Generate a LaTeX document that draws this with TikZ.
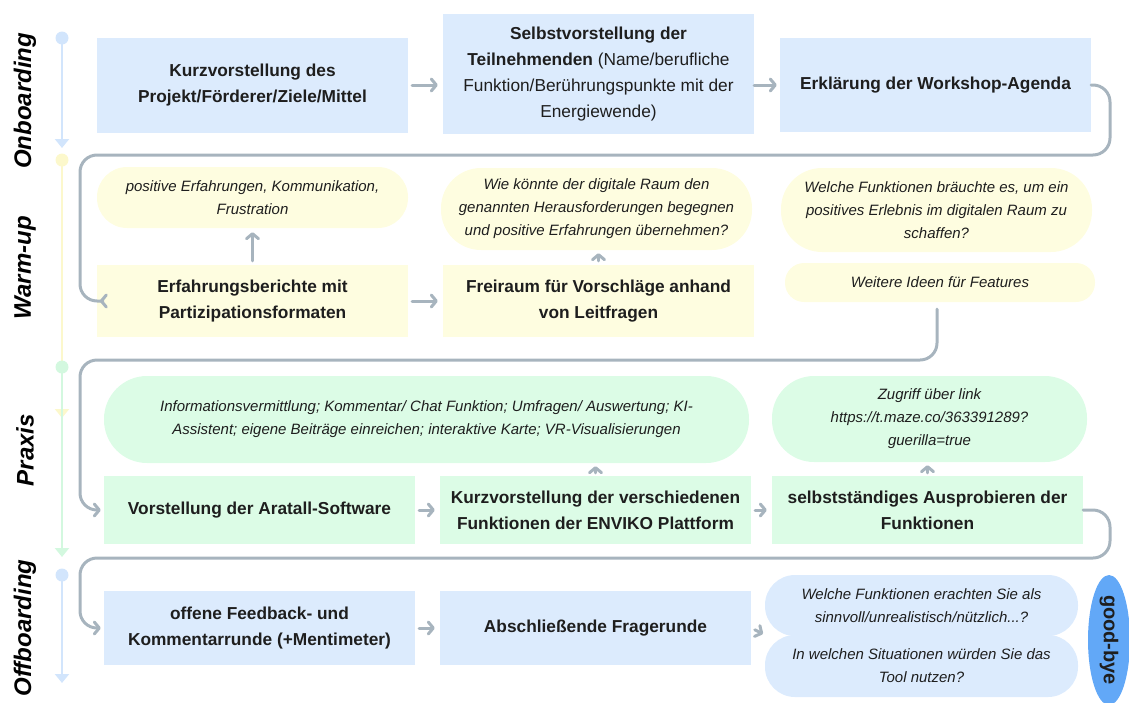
\documentclass[tikz,border=0pt]{standalone}
\usepackage{fontspec}
\setmainfont{Liberation Sans}
\usetikzlibrary{arrows.meta,shapes.geometric}

\definecolor{ink}{HTML}{1E1E1E}
\definecolor{bluefill}{HTML}{DCEBFD}
\definecolor{yellowfill}{HTML}{FEFDE0}
\definecolor{greenfill}{HTML}{DCFCE6}
\definecolor{linkgray}{HTML}{A7B4BE}
\definecolor{byeblue}{HTML}{62A8F7}
\definecolor{tlblue}{HTML}{D2E5FC}
\definecolor{tlyellow}{HTML}{FCF8CC}
\definecolor{tlgreen}{HTML}{D3F8DF}

\newcommand\cardfont{\fontsize{17.3}{26}\selectfont\bfseries}
\newcommand\bubblefont{\fontsize{15}{23}\selectfont\itshape}

\tikzset{
  card/.style={inner sep=0pt, align=center, text=ink, font=\cardfont},
  bubble/.style={inner sep=0pt, align=center, text=ink, font=\bubblefont, rounded corners=#1},
  flow/.style={draw=linkgray, line width=3, line cap=round, line join=round,
    -{Straight Barb[length=5, width=12, round]}},
  loop/.style={flow, rounded corners=17},
  dot/.style={circle, inner sep=0pt, minimum size=13},
  tline/.style={line width=2.5, -{Triangle[length=9, width=14]}},
  phase/.style={rotate=90, text=black, font=\fontsize{24}{28}\selectfont\bfseries\itshape},
}

\begin{document}
\begin{tikzpicture}[x=1pt,y=-1pt]
\useasboundingbox (0,0) rectangle (1129,702);

% timeline on the left
\node[dot, fill=tlblue] (t1) at (62,38) {};
\coordinate (t1e) at (62,148);
\draw[tline, draw=tlblue] (t1.center) -- (t1e);
\node[dot, fill=tlyellow] (t2) at (62,160) {};
\coordinate (t2e) at (62,418);
\draw[tline, draw=tlyellow] (t2.center) -- (t2e);
\node[dot, fill=tlgreen] (t3) at (62,367) {};
\coordinate (t3e) at (62,557);
\draw[tline, draw=tlgreen] (t3.center) -- (t3e);
\node[dot, fill=tlblue] (t4) at (62,575) {};
\coordinate (t4e) at (62,683);
\draw[tline, draw=tlblue] (t4.center) -- (t4e);

\node[phase] (pOn) at (25,101) {Onboarding};
\node[phase] (pWarm) at (25,268) {Warm-up};
\node[phase] (pPrax) at (25,450) {Praxis};
\node[phase] (pOff) at (25,628) {Offboarding};

% Onboarding
\node[card, fill=bluefill, minimum width=311, minimum height=95] (A1) at (252.5,85.5)
  {Kurzvorstellung des\\Projekt/Förderer/Ziele/Mittel};
\node[card, fill=bluefill, minimum width=311, minimum height=120, font=\cardfont\mdseries] (A2) at (598.5,74)
  {\textbf{Selbstvorstellung der}\\\textbf{Teilnehmenden} (Name/berufliche\\Funktion/Berührungspunkte mit der\\Energiewende)};
\node[card, fill=bluefill, minimum width=311, minimum height=94] (A3) at (935.5,85)
  {Erklärung der Workshop-Agenda};

% Warm-up
\node[bubble=30, fill=yellowfill, minimum width=311, minimum height=61] (B1n) at (252.5,197.5)
  {positive Erfahrungen, Kommunikation,\\Frustration};
\node[bubble=40, fill=yellowfill, minimum width=311, minimum height=82] (B2n) at (596.5,209)
  {Wie könnte der digitale Raum den\\genannten Herausforderungen begegnen\\und positive Erfahrungen übernehmen?};
\node[bubble=41, fill=yellowfill, minimum width=311, minimum height=84] (B3n) at (936.5,210)
  {Welche Funktionen bräuchte es, um ein\\positives Erlebnis im digitalen Raum zu\\schaffen?};
\node[bubble=19, fill=yellowfill, minimum width=310, minimum height=39] (B3m) at (940,282.5)
  {Weitere Ideen für Features};
\node[card, fill=yellowfill, minimum width=311, minimum height=72] (B1) at (252.5,301)
  {Erfahrungsberichte mit\\Partizipationsformaten};
\node[card, fill=yellowfill, minimum width=311, minimum height=72] (B2) at (598.5,301)
  {Freiraum für Vorschläge anhand\\von Leitfragen};

% Praxis
\node[bubble=43, fill=greenfill, minimum width=645, minimum height=87] (C1n) at (426.5,419.5)
  {Informationsvermittlung; Kommentar/ Chat Funktion; Umfragen/ Auswertung; KI-\\Assistent; eigene Beiträge einreichen; interaktive Karte; VR-Visualisierungen};
\node[bubble=42, fill=greenfill, minimum width=315, minimum height=86] (C3n) at (929.5,419)
  {Zugriff über link\\https://t.maze.co/363391289?\\guerilla=true};
\node[card, fill=greenfill, minimum width=311, minimum height=68] (C1) at (259.5,510)
  {Vorstellung der Aratall-Software};
\node[card, fill=greenfill, minimum width=311, minimum height=68] (C2) at (595.5,510)
  {Kurzvorstellung der verschiedenen\\Funktionen der ENVIKO Plattform};
\node[card, fill=greenfill, minimum width=311, minimum height=68] (C3) at (927.5,510)
  {selbstständiges Ausprobieren der\\Funktionen};

% Offboarding
\node[card, fill=bluefill, minimum width=311, minimum height=74] (D1) at (259.5,628)
  {offene Feedback- und\\Kommentarrunde (+Mentimeter)};
\node[card, fill=bluefill, minimum width=311, minimum height=74] (D2) at (595.5,628)
  {Abschließende Fragerunde};
\node[bubble=30, fill=bluefill, minimum width=313, minimum height=61] (D3a) at (921.5,605.5)
  {Welche Funktionen erachten Sie als\\sinnvoll/unrealistisch/nützlich...?};
\node[bubble=30, fill=bluefill, minimum width=313, minimum height=62] (D3b) at (921.5,666)
  {In welchen Situationen würden Sie das\\Tool nutzen?};
\node[ellipse, fill=byeblue, inner sep=0pt, minimum width=130, minimum height=42, rotate=-90,
  text=ink, font=\fontsize{20}{24}\selectfont\bfseries] (bye) at (1109,640) {good-bye};

% arrows within the rows
\draw[flow, shorten <=4, shorten >=5] (A1.east |- 0,85) -- (A2.west |- 0,85);
\draw[flow, shorten >=3] (A2.east |- A3.west) -- (A3.west);
\draw[flow, shorten <=4, shorten >=5] (B1.east) -- (B2.west);
\draw[flow, shorten <=4, shorten >=4] (B1.north) -- (B1n.south);
\draw[flow, shorten <=4, shorten >=3] (B2.north) -- (B2.north |- B2n.south);
\draw[flow, shorten <=4, shorten >=5] (C1.east) -- (C2.west);
\draw[flow, shorten <=4, shorten >=5] (C2.east) -- (C3.west);
\draw[flow, shorten <=3, shorten >=3] (C2.north) -- (C2.north |- C1n.south);
\draw[flow, shorten <=3, shorten >=3] (C3.north) -- (C3.north |- C3n.south);
\draw[flow, shorten <=4, shorten >=5] (D1.east) -- (D2.west);
\draw[flow, shorten <=4, shorten >=2] (D2.east) -- (D3b.north west);

% loops leading from one phase to the next
\coordinate (k1) at (1110,85);
\coordinate (k2) at (1110,155);
\coordinate (k3) at (80,155);
\coordinate (k4) at (80,301);
\draw[loop, shorten >=3] (A3.east) -- (k1) -- (k2) -- (k3) -- (k4) -- (B1.west);

\coordinate (m1) at (937,360);
\coordinate (m2) at (80,360);
\coordinate (m3) at (80,510);
\draw[loop, shorten <=7, shorten >=3] (B3m.south -| m1) -- (m1) -- (m2) -- (m3) -- (C1.west);

\coordinate (n1) at (1110,510);
\coordinate (n2) at (1110,558);
\coordinate (n3) at (80,558);
\coordinate (n4) at (80,628);
\draw[loop, shorten >=3] (C3.east) -- (n1) -- (n2) -- (n3) -- (n4) -- (D1.west);
\end{tikzpicture}
\end{document}
